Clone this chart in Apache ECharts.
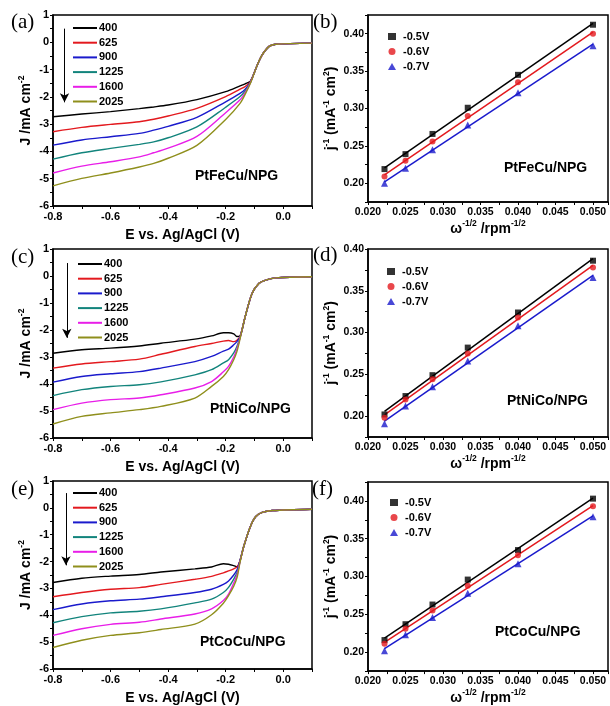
<!DOCTYPE html>
<html><head><meta charset="utf-8">
<script src="https://cdn.jsdelivr.net/npm/echarts@6/dist/echarts.min.js"></script>
<style>html,body{margin:0;padding:0;background:#fff}#c{width:610px;height:706px}</style>
</head><body><div id="c"></div>
<script>
// ---------- DATA ----------
const rpmNames = ['400', '625', '900', '1225', '1600', '2025'];
const potentials = ['-0.5V', '-0.6V', '-0.7V'];
const sampleNames = ['PtFeCu/NPG', 'PtNiCo/NPG', 'PtCoCu/NPG'];
const panelLetters = ['(a)', '(b)', '(c)', '(d)', '(e)', '(f)'];

// LSV (a) PtFeCu/NPG
const E_a = [-0.8, -0.7, -0.6, -0.5, -0.45, -0.4, -0.3, -0.2, -0.15, -0.132, -0.114, -0.09, -0.073, -0.049, -0.026, 0.1];
const J_a = [
  [-2.73, -2.63, -2.54, -2.43, -2.37, -2.30, -2.10, -1.81, -1.60, -1.52, -1.42, -0.83, -0.46, -0.15, -0.07, -0.03],
  [-3.28, -3.12, -3.01, -2.91, -2.82, -2.70, -2.42, -1.99, -1.72, -1.62, -1.44, -0.83, -0.46, -0.15, -0.07, -0.03],
  [-3.77, -3.58, -3.46, -3.34, -3.22, -3.08, -2.75, -2.18, -1.87, -1.72, -1.46, -0.83, -0.46, -0.15, -0.07, -0.03],
  [-4.28, -4.05, -3.89, -3.74, -3.65, -3.50, -3.10, -2.38, -1.99, -1.78, -1.47, -0.83, -0.46, -0.15, -0.07, -0.03],
  [-4.79, -4.54, -4.38, -4.20, -4.05, -3.88, -3.45, -2.58, -2.11, -1.84, -1.48, -0.83, -0.46, -0.15, -0.07, -0.03],
  [-5.26, -4.99, -4.79, -4.57, -4.44, -4.25, -3.78, -2.83, -2.24, -1.90, -1.50, -0.83, -0.46, -0.15, -0.07, -0.03]
];
// LSV (c) PtNiCo/NPG
const E_c = [-0.8, -0.7, -0.6, -0.5, -0.425, -0.307, -0.249, -0.208, -0.19, -0.172, -0.161, -0.15, -0.132, -0.108, -0.084, -0.061, -0.026, 0.1];
const J_c = [
  [-2.86, -2.73, -2.67, -2.59, -2.49, -2.34, -2.22, -2.10, -2.10, -2.14, -2.24, -2.22, -1.50, -0.64, -0.27, -0.15, -0.07, -0.03],
  [-3.41, -3.26, -3.17, -3.08, -2.90, -2.61, -2.50, -2.41, -2.39, -2.43, -2.38, -2.24, -1.50, -0.64, -0.27, -0.15, -0.07, -0.03],
  [-3.93, -3.72, -3.62, -3.54, -3.41, -3.17, -2.98, -2.78, -2.71, -2.55, -2.43, -2.26, -1.50, -0.64, -0.27, -0.15, -0.07, -0.03],
  [-4.43, -4.21, -4.09, -4.03, -3.92, -3.66, -3.47, -3.22, -3.10, -2.85, -2.61, -2.28, -1.50, -0.64, -0.27, -0.15, -0.07, -0.03],
  [-4.95, -4.71, -4.58, -4.52, -4.40, -4.15, -3.91, -3.55, -3.35, -3.00, -2.70, -2.30, -1.50, -0.64, -0.27, -0.15, -0.07, -0.03],
  [-5.48, -5.20, -5.07, -4.95, -4.83, -4.52, -4.09, -3.72, -3.47, -3.10, -2.80, -2.33, -1.50, -0.64, -0.27, -0.15, -0.07, -0.03]
];
// LSV (e) PtCoCu/NPG
const E_e = [-0.8, -0.7, -0.6, -0.5, -0.425, -0.307, -0.249, -0.208, -0.19, -0.172, -0.16, -0.15, -0.137, -0.114, -0.096, -0.073, -0.038, 0.1];
const J_e = [
  [-2.78, -2.62, -2.54, -2.48, -2.39, -2.27, -2.20, -2.08, -2.10, -2.15, -2.19, -1.96, -1.43, -0.69, -0.33, -0.17, -0.10, -0.05],
  [-3.31, -3.15, -3.03, -2.97, -2.85, -2.66, -2.55, -2.42, -2.35, -2.27, -2.20, -1.96, -1.43, -0.69, -0.33, -0.17, -0.10, -0.05],
  [-3.79, -3.58, -3.46, -3.40, -3.31, -3.15, -3.03, -2.85, -2.72, -2.50, -2.30, -1.96, -1.43, -0.69, -0.33, -0.17, -0.10, -0.05],
  [-4.28, -4.05, -3.91, -3.85, -3.76, -3.54, -3.40, -3.15, -2.96, -2.65, -2.40, -1.98, -1.43, -0.69, -0.33, -0.17, -0.10, -0.05],
  [-4.75, -4.50, -4.34, -4.26, -4.14, -3.95, -3.76, -3.45, -3.21, -2.80, -2.48, -2.00, -1.43, -0.69, -0.33, -0.17, -0.10, -0.05],
  [-5.20, -4.93, -4.75, -4.65, -4.53, -4.33, -3.98, -3.55, -3.27, -2.92, -2.58, -2.02, -1.43, -0.69, -0.33, -0.17, -0.10, -0.05]
];
// Koutecky-Levich: x = omega^-1/2
const invOmega = [0.0222, 0.0250, 0.0286, 0.0333, 0.0400, 0.0500];
const jinv_b = [
  [0.219, 0.239, 0.266, 0.301, 0.345, 0.412],
  [0.209, 0.230, 0.256, 0.290, 0.335, 0.400],
  [0.200, 0.220, 0.245, 0.278, 0.321, 0.384]
];
const jinv_d = [
  [0.202, 0.224, 0.249, 0.282, 0.324, 0.386],
  [0.198, 0.220, 0.244, 0.275, 0.318, 0.378],
  [0.191, 0.212, 0.235, 0.266, 0.308, 0.366]
];
const jinv_f = [
  [0.216, 0.237, 0.263, 0.296, 0.335, 0.403],
  [0.211, 0.231, 0.255, 0.288, 0.328, 0.393],
  [0.202, 0.223, 0.246, 0.278, 0.317, 0.379]
];
// arrow annotation (x, yStart, yEnd) in data units
const arrow_a = [-0.76, 0.5, -2.2];
const arrow_c = [-0.752, 0.48, -2.29];
const arrow_e = [-0.755, 0.55, -2.14];

// ---------- STYLE ----------
const FONT = 'Liberation Sans';
const lsvColors = ['#000000', '#e3191e', '#1a1acc', '#12847c', '#e81ee8', '#8f8f1c'];
const klColors = ['#000000', '#e3191e', '#1a1acc'];
const klSymbols = ['rect', 'circle', 'triangle'];

const grids = [
  {left: 53, top: 15, width: 259, height: 191},
  {left: 368, top: 15, width: 240, height: 187},
  {left: 53, top: 249, width: 259, height: 189},
  {left: 368, top: 249, width: 240, height: 188},
  {left: 53, top: 481, width: 259, height: 190},
  {left: 368, top: 482, width: 240, height: 190}
].map(g => Object.assign({show: true, borderColor: '#000', borderWidth: 1.5, backgroundColor: 'transparent'}, g));

const rich = {
  b: {fontFamily: FONT, fontWeight: 'bold', fontSize: 14, color: '#000', verticalAlign: 'bottom', lineHeight: 17},
  s: {fontFamily: FONT, fontWeight: 'bold', fontSize: 8.5, color: '#000', verticalAlign: 'top', lineHeight: 17}
};
const richY = {
  b: {fontFamily: FONT, fontWeight: 'bold', fontSize: 14, color: '#000', verticalAlign: 'bottom', lineHeight: 16},
  s: {fontFamily: FONT, fontWeight: 'bold', fontSize: 8.5, color: '#000', verticalAlign: 'top', lineHeight: 16}
};
const axisCommon = {
  type: 'value',
  splitLine: {show: false},
  axisLine: {show: true, onZero: false, lineStyle: {color: '#000', width: 1.5}},
  axisTick: {show: true, length: 3, lineStyle: {color: '#000', width: 1}},
  nameLocation: 'middle'
};
const labelStyle = {fontFamily: FONT, fontWeight: 'bold', fontSize: 11, color: '#000'};

const xAxes = [], yAxes = [], series = [], legends = [], graphics = [];

function addLSV(gi, E, J, arrow, legendPos) {
  xAxes.push(Object.assign({}, axisCommon, {
    gridIndex: gi, min: -0.8, max: 0.1, interval: 0.1,
    axisLabel: Object.assign({}, labelStyle, {margin: 5, customValues: [-0.8, -0.6, -0.4, -0.2, 0], formatter: v => v.toFixed(1)}),
    name: '{b|E vs. Ag/AgCl (V)}', nameGap: 19, nameTextStyle: {rich}
  }));
  yAxes.push(Object.assign({}, axisCommon, {
    gridIndex: gi, min: -6, max: 1, interval: 0.5,
    axisLabel: Object.assign({}, labelStyle, {margin: 4, customValues: [-6, -5, -4, -3, -2, -1, 0, 1], formatter: v => String(v)}),
    name: '{b|J /mA cm}{s|-2}', nameGap: 20, nameRotate: 90, nameTextStyle: {rich: richY}
  }));
  J.forEach((arr, k) => {
    const s = {
      type: 'line', name: rpmNames[k], xAxisIndex: gi, yAxisIndex: gi,
      data: E.map((e, i) => [e, arr[i]]),
      showSymbol: false, symbol: 'none', smooth: 0.3,
      lineStyle: {color: lsvColors[k], width: 1.4}, itemStyle: {color: lsvColors[k]},
      z: 10 + k, silent: true
    };
    if (k === 0) {
      s.markLine = {
        silent: true, symbol: ['none', 'arrow'], symbolSize: [7, 9],
        label: {show: false},
        lineStyle: {color: '#000', width: 1, type: 'solid'},
        data: [[{coord: [arrow[0], arrow[1]]}, {coord: [arrow[0], arrow[2]]}]]
      };
    }
    series.push(s);
  });
  legends.push({
    data: rpmNames.slice(), orient: 'vertical', left: legendPos[0], top: legendPos[1],
    icon: 'rect', itemWidth: 24, itemHeight: 2, itemGap: 2.7, selectedMode: false,
    textStyle: {fontFamily: FONT, fontWeight: 'bold', fontSize: 11, color: '#000', lineHeight: 12, padding: [0, 0, 0, -3]}
  });
}

function fit(xs, ys) {
  const n = xs.length;
  const mx = xs.reduce((a, b) => a + b, 0) / n, my = ys.reduce((a, b) => a + b, 0) / n;
  let sxy = 0, sxx = 0;
  for (let i = 0; i < n; i++) { sxy += (xs[i] - mx) * (ys[i] - my); sxx += (xs[i] - mx) * (xs[i] - mx); }
  const k = sxy / sxx;
  return [k, my - k * mx];
}

function addKL(gi, Y, yMax, legendPos) {
  xAxes.push(Object.assign({}, axisCommon, {
    gridIndex: gi, min: 0.02, max: 0.052, interval: 0.0025,
    axisLabel: Object.assign({}, labelStyle, {fontSize: 10.5, margin: 5, customValues: [0.02, 0.025, 0.03, 0.035, 0.04, 0.045, 0.05], formatter: v => v.toFixed(3)}),
    name: '{b|ω}{s|-1/2}{b| /rpm}{s|-1/2}', nameGap: 16, nameTextStyle: {rich}
  }));
  yAxes.push(Object.assign({}, axisCommon, {
    gridIndex: gi, min: 0.175, max: yMax, interval: 0.025,
    axisLabel: Object.assign({}, labelStyle, {fontSize: 10.5, margin: 4, customValues: [0.2, 0.25, 0.3, 0.35, 0.4], formatter: v => v.toFixed(2)}),
    name: '{b|j}{s|-1}{b| (mA}{s|-1}{b| cm}{s|2}{b|)}', nameGap: 30, nameRotate: 90, nameTextStyle: {rich: richY}
  }));
  Y.forEach((arr, k) => {
    series.push({
      type: 'scatter', name: potentials[k], xAxisIndex: gi, yAxisIndex: gi,
      data: invOmega.map((x, i) => [x, arr[i]]),
      symbol: klSymbols[k], symbolSize: k === 2 ? 7 : 6,
      itemStyle: {color: klColors[k]}, z: 12, silent: true
    });
    const [m, c] = fit(invOmega, arr);
    const x0 = invOmega[0], x1 = invOmega[invOmega.length - 1];
    series.push({
      type: 'line', name: 'fit ' + potentials[k], xAxisIndex: gi, yAxisIndex: gi,
      data: [[x0, m * x0 + c], [x1, m * x1 + c]],
      showSymbol: false, symbol: 'none',
      lineStyle: {color: klColors[k], width: 1.5}, z: 11, silent: true
    });
  });
  legends.push({
    data: potentials.slice(), orient: 'vertical', left: legendPos[0], top: legendPos[1],
    itemWidth: 8, itemHeight: 7, itemGap: 2, selectedMode: false,
    textStyle: {fontFamily: FONT, fontWeight: 'bold', fontSize: 11, color: '#000', lineHeight: 13, padding: [0, 0, 0, 2]}
  });
}

addLSV(0, E_a, J_a, arrow_a, [68, 17]);
addKL(1, jinv_b, 0.425, [383, 25]);
addLSV(2, E_c, J_c, arrow_c, [73, 253]);
addKL(3, jinv_d, 0.40, [382, 260]);
addLSV(4, E_e, J_e, arrow_e, [68, 482]);
addKL(5, jinv_f, 0.425, [385, 491]);

// Panel letters
const letterPos = [[11, 12], [313, 12], [11, 247], [313, 245], [11, 479], [312, 479]];
panelLetters.forEach((t, i) => graphics.push({
  type: 'text', left: letterPos[i][0], top: letterPos[i][1], silent: true,
  style: {text: t, font: '21px "Liberation Serif"', fill: '#000'}
}));
// Sample names
const samplePos = [[195, 169], [504, 161], [210, 402], [507, 394], [200, 635], [495, 625]];
samplePos.forEach((p, i) => graphics.push({
  type: 'text', left: p[0], top: p[1], silent: true,
  style: {text: sampleNames[Math.floor(i / 2)], font: 'bold 14px "Liberation Sans"', fill: '#000'}
}));

const chart = echarts.init(document.getElementById('c'), null, {renderer: 'canvas'});
chart.setOption({
  animation: false,
  backgroundColor: '#fff',
  grid: grids,
  xAxis: xAxes,
  yAxis: yAxes,
  legend: legends,
  series: series,
  graphic: graphics
});
</script></body></html>
